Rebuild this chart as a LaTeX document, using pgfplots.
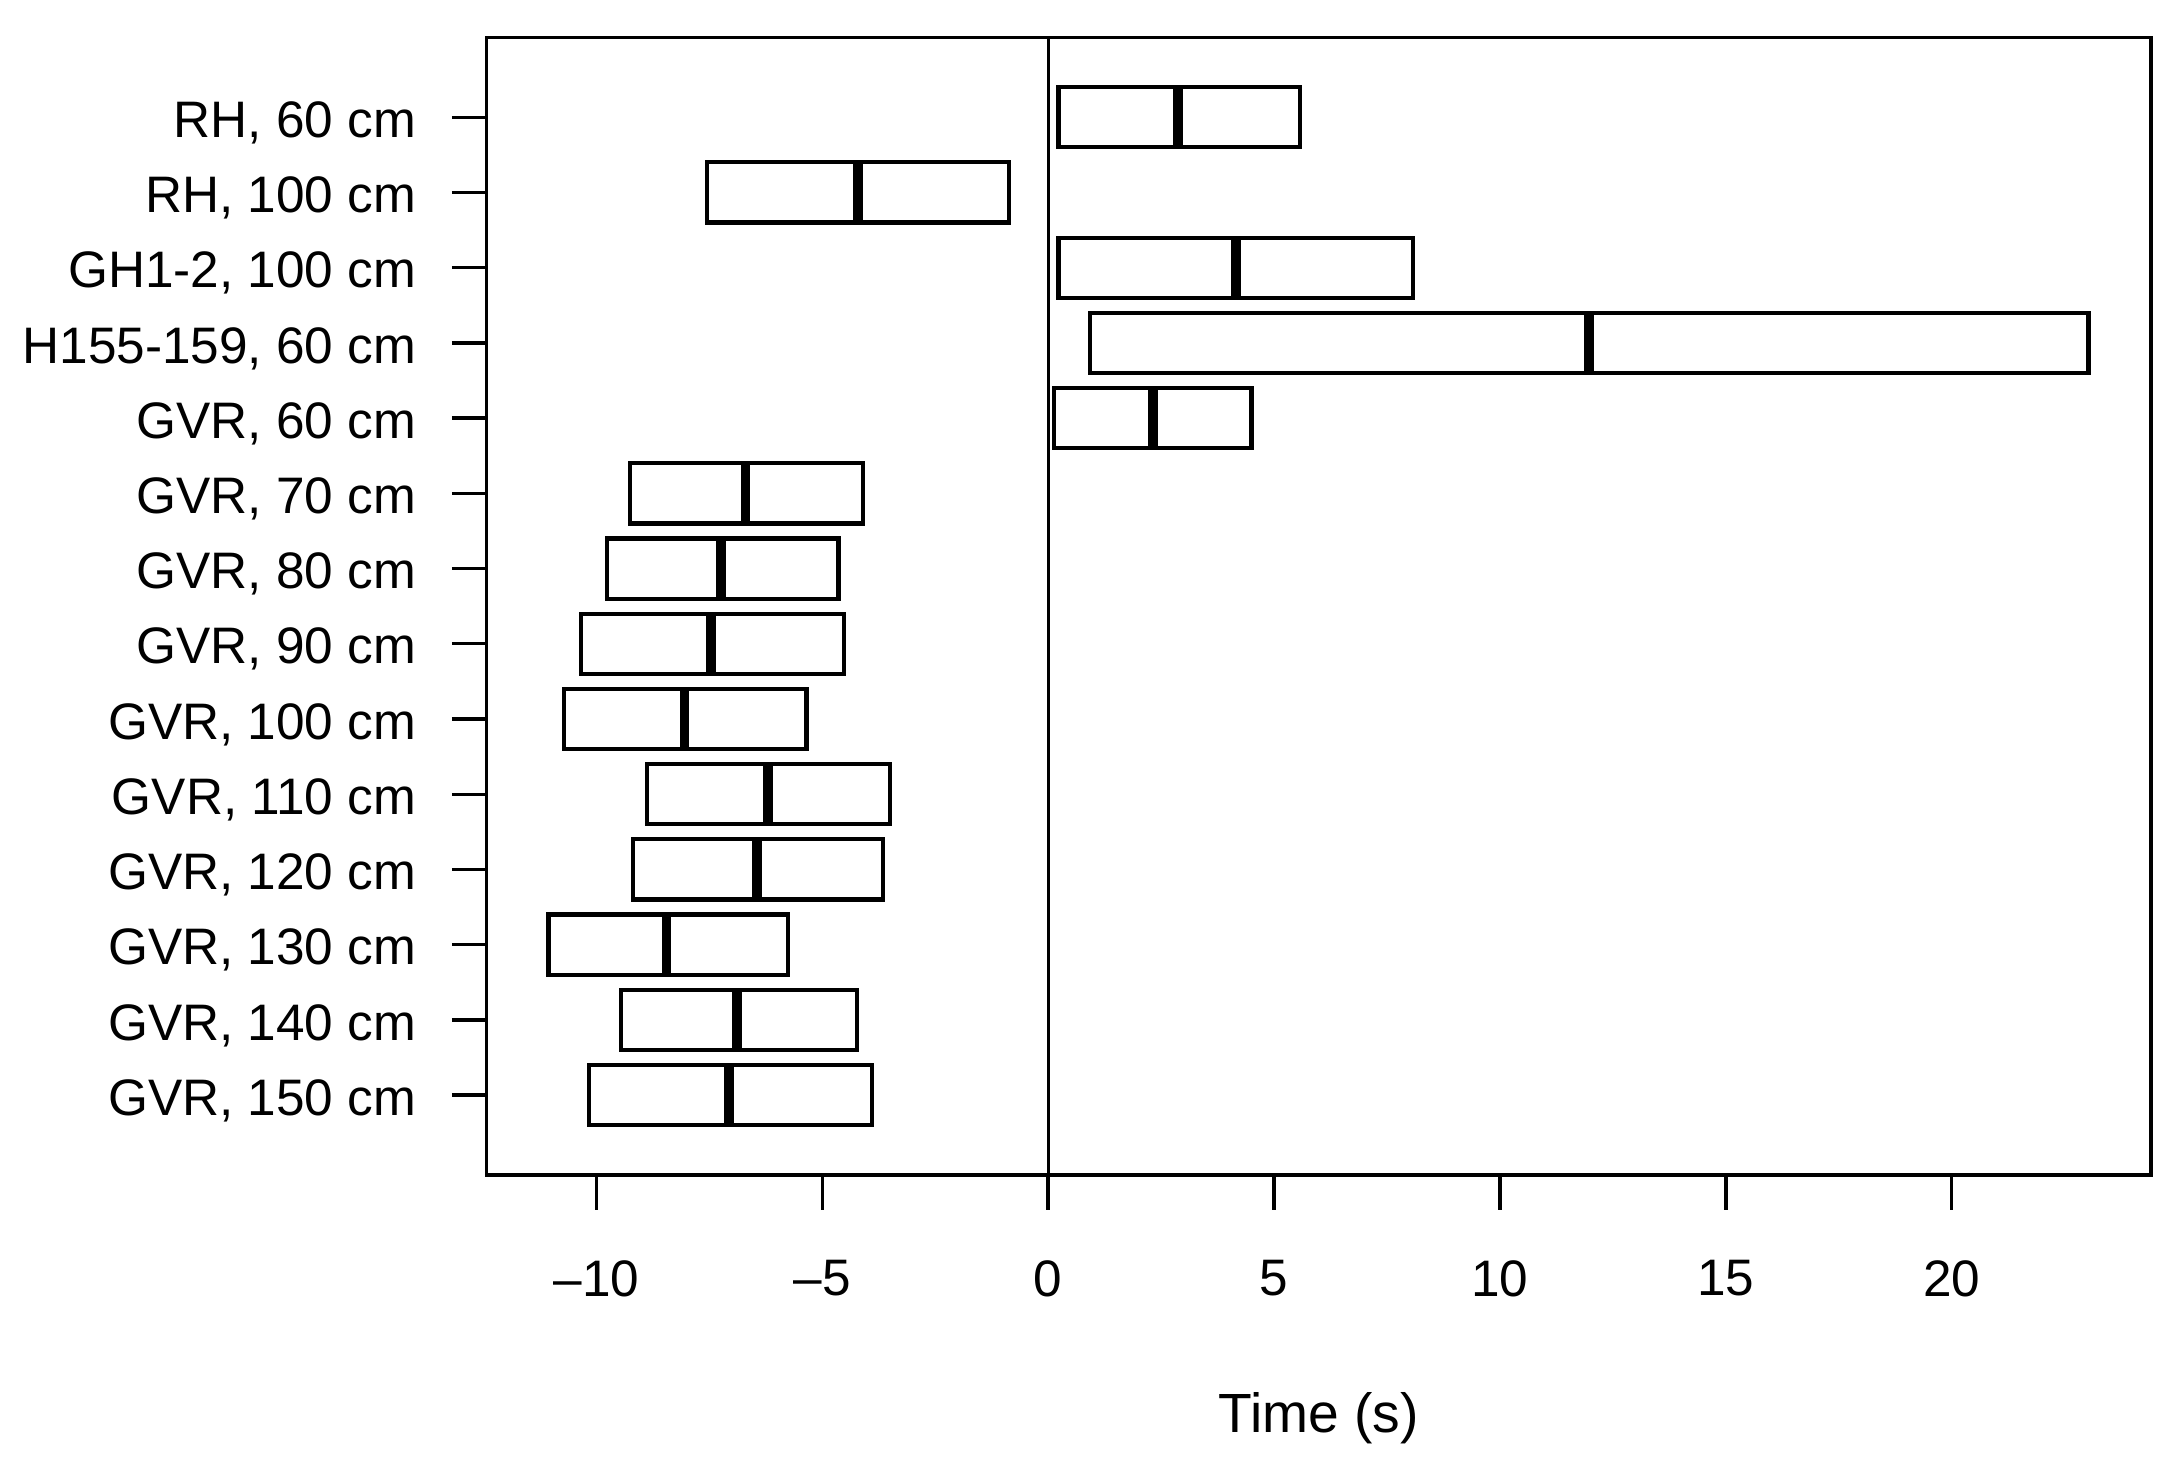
\documentclass[border=0pt]{standalone}
\usepackage{pgfplots}
\pgfplotsset{compat=1.18}
\usepgfplotslibrary{statistics}
\usepackage{fontspec}
\setmainfont{Liberation Sans}

\begin{document}
\begin{tikzpicture}
\begin{axis}[
    scale only axis,
    width=11.97cm, height=8.18cm,
    xmin=-12.43, xmax=24.41,
    ymin=-0.06, ymax=15.06,
    axis line style={line width=0.7pt},
    tick style={line width=0.7pt, black},
    tick align=outside,
    major tick length=0.25cm,
    xtick={-10,-5,0,5,10,15,20},
    xticklabels={–10,–5,0,5,10,15,20},
    xtick pos=bottom, ytick pos=left,
    ytick={1,...,14},
    yticklabels={{GVR, 150 cm},{GVR, 140 cm},{GVR, 130 cm},{GVR, 120 cm},
        {GVR, 110 cm},{GVR, 100 cm},{GVR, 90 cm},{GVR, 80 cm},{GVR, 70 cm},
        {GVR, 60 cm},{H155-159, 60 cm},{GH1-2, 100 cm},{RH, 100 cm},{RH, 60 cm}},
    ticklabel style={font=\fontsize{10.5}{12}\selectfont, inner sep=0pt},
    yticklabel style={xshift=-0.25cm, yshift=-0.04cm},
    xticklabel style={yshift=-0.36cm},
    xlabel={Time (s)},
    xlabel style={font=\fontsize{11.3}{13}\selectfont, at={(axis description cs:0.5,0)},
        anchor=center, yshift=-1.75cm},
    boxplot/draw direction=x,
    boxplot/box extend=0.8,
    boxplot/every box/.style={line width=0.85pt, fill=white},
    boxplot/every median/.style={line width=2pt},
    boxplot/every whisker/.style={draw=none},
]
% lower quartile, median, upper quartile per row (whiskers = quartiles)
\addplot[black, boxplot prepared={draw position=14, lower whisker=0.23, lower quartile=0.23, median=2.88, upper quartile=5.58, upper whisker=5.58}] coordinates {};
\addplot[black, boxplot prepared={draw position=13, lower whisker=-7.56, lower quartile=-7.56, median=-4.21, upper quartile=-0.86, upper whisker=-0.86}] coordinates {};
\addplot[black, boxplot prepared={draw position=12, lower whisker=0.23, lower quartile=0.23, median=4.15, upper quartile=8.08, upper whisker=8.08}] coordinates {};
\addplot[black, boxplot prepared={draw position=11, lower whisker=0.93, lower quartile=0.93, median=11.97, upper quartile=23.03, upper whisker=23.03}] coordinates {};
\addplot[black, boxplot prepared={draw position=10, lower whisker=0.12, lower quartile=0.12, median=2.32, upper quartile=4.5, upper whisker=4.5}] coordinates {};
\addplot[black, boxplot prepared={draw position=9, lower whisker=-9.25, lower quartile=-9.25, median=-6.70, upper quartile=-4.09, upper whisker=-4.09}] coordinates {};
\addplot[black, boxplot prepared={draw position=8, lower whisker=-9.77, lower quartile=-9.77, median=-7.25, upper quartile=-4.64, upper whisker=-4.64}] coordinates {};
\addplot[black, boxplot prepared={draw position=7, lower whisker=-10.35, lower quartile=-10.35, median=-7.47, upper quartile=-4.52, upper whisker=-4.52}] coordinates {};
\addplot[black, boxplot prepared={draw position=6, lower whisker=-10.72, lower quartile=-10.72, median=-8.05, upper quartile=-5.35, upper whisker=-5.35}] coordinates {};
\addplot[black, boxplot prepared={draw position=5, lower whisker=-8.88, lower quartile=-8.88, median=-6.21, upper quartile=-3.50, upper whisker=-3.50}] coordinates {};
\addplot[black, boxplot prepared={draw position=4, lower whisker=-9.19, lower quartile=-9.19, median=-6.45, upper quartile=-3.66, upper whisker=-3.66}] coordinates {};
\addplot[black, boxplot prepared={draw position=3, lower whisker=-11.06, lower quartile=-11.06, median=-8.45, upper quartile=-5.75, upper whisker=-5.75}] coordinates {};
\addplot[black, boxplot prepared={draw position=2, lower whisker=-9.46, lower quartile=-9.46, median=-6.88, upper quartile=-4.24, upper whisker=-4.24}] coordinates {};
\addplot[black, boxplot prepared={draw position=1, lower whisker=-10.17, lower quartile=-10.17, median=-7.07, upper quartile=-3.90, upper whisker=-3.90}] coordinates {};
% zero line
\addplot[black, line width=0.6pt] coordinates {(0,-0.06) (0,15.06)};
\end{axis}
\path (current axis.south west) ++(-3.5,-2.07) coordinate (bl);
\path (current axis.north east) ++(0.13,0.27) coordinate (tr);
\useasboundingbox (bl) rectangle (tr);
\end{tikzpicture}
\end{document}
